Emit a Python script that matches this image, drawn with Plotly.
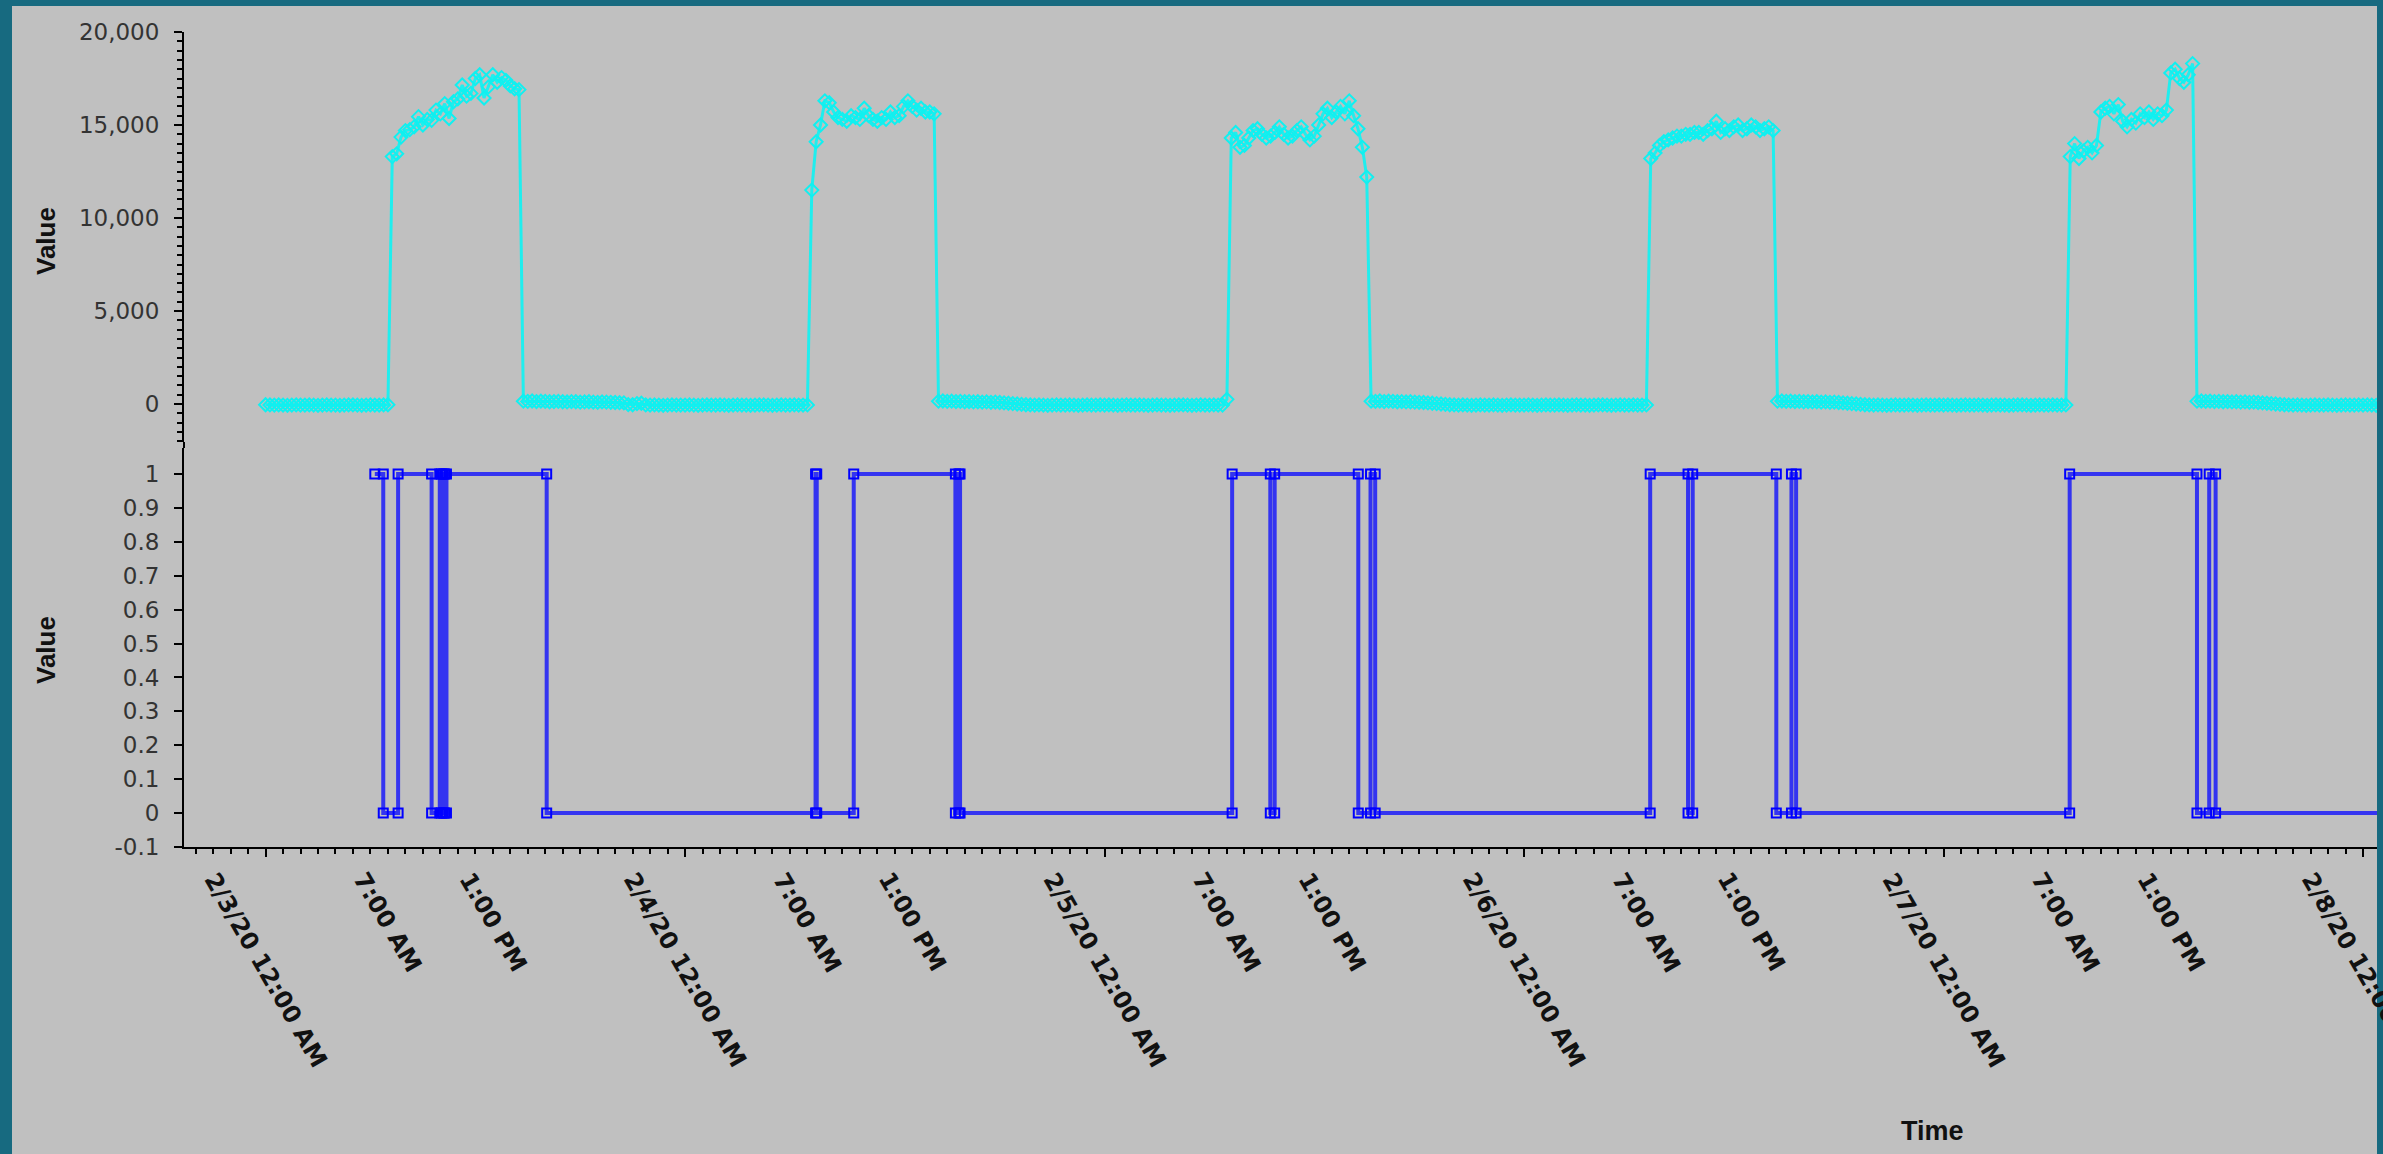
import plotly.graph_objects as go
import pandas as pd

# ---------------- data ----------------
# upper series: sampled every 15 minutes starting 2/3/20 00:00
night0 = [-40, -50, -60, -50, -60, -70, -60, -50, -60, -60, -50, -60, -70, -60, -50,
          -60, -60, -70, -60, -50, -50, -60, -70, -60, -50, -60, -60, -50, -40]
day1 = [13300, 13450, 14350, 14700, 14750, 14900, 15450, 15000, 15300, 15250,
        15800, 15600, 16150, 15350, 16250, 16400, 17150, 16550, 16700, 17500,
        17700, 16450, 17050, 17700, 17300, 17550, 17400, 17100, 16950, 16900]
night1 = [150, 140, 160, 130, 150, 140, 120, 130, 140, 120, 110, 130, 120, 100, 110,
          120, 100, 90, 110, 100, 90, 80, 70, 60, -30, -40, 20, 40, -50, -60, -50,
          -60, -70, -60, -50, -60, -60,
          -60, -50, -60, -70, -60, -50, -60, -60, -50, -60, -70, -60, -50, -60, -60,
          -70, -60, -50, -50, -60, -70, -60, -50, -60, -60, -50, -60, -60, -50]
day2 = [11500, 14100, 15000, 16300, 16200, 15700, 15400, 15300, 15200, 15500,
        15400, 15300, 15900, 15500, 15300, 15200, 15400, 15300, 15700, 15400,
        15500, 16000, 16300, 16000, 15800, 15900, 15700, 15700, 15600]
night2 = [150, 160, 140, 150, 130, 140, 120, 130, 110, 120, 100, 110, 90, 100, 80,
          60, 40, 20, 0, -20, -40, -50, -60, -50, -60, -70, -60, -50, -60, -60, -50,
          -60, -70, -60, -50, -60, -60, -50,
          -60, -50, -60, -70, -60, -50, -60, -60, -50, -60, -70, -60, -50, -60, -60,
          -70, -60, -50, -50, -60, -70, -60, -50, -60, -60, -50, -60, -60, 250]
day3 = [14300, 14600, 13800, 13900, 14300, 14700, 14800, 14500, 14300, 14400,
        14600, 14900, 14500, 14300, 14400, 14700, 14900, 14500, 14200, 14400,
        15000, 15600, 15900, 15400, 15700, 16000, 15600, 16300, 15500, 14800,
        13800, 12200]
night3 = [150, 140, 160, 130, 150, 140, 120, 130, 110, 120, 100, 90, 80, 60, 40, 20,
          0, -20, -40, -50, -60, -50, -60, -70, -60, -50, -60, -60, -50, -60, -70,
          -60, -50, -60, -60,
          -60, -50, -60, -70, -60, -50, -60, -60, -50, -60, -70, -60, -50, -60, -60,
          -70, -60, -50, -50, -60, -70, -60, -50, -60, -60, -50, -60, -60, -50]
day4 = [13200, 13500, 13900, 14100, 14200, 14300, 14400, 14400, 14500, 14500,
        14600, 14600, 14500, 14700, 14800, 15200, 14600, 14800, 14700, 14900,
        15000, 14700, 14800, 15000, 14900, 14700, 14800, 14900, 14700]
night4 = [150, 160, 140, 150, 130, 140, 120, 130, 110, 120, 100, 110, 90, 100, 80,
          60, 40, 20, 0, -20, -40, -50, -60, -50, -60, -70, -60, -50, -60, -60, -50,
          -60, -70, -60, -50, -60, -60, -50,
          -60, -50, -60, -70, -60, -50, -60, -60, -50, -60, -70, -60, -50, -60, -60,
          -70, -60, -50, -50, -60, -70, -60, -50, -60, -60, -50, -60, -60, -50]
day5 = [13300, 14000, 13200, 13600, 13800, 13500, 13900, 15700, 15900, 16000,
        15600, 16100, 15200, 14900, 15300, 15100, 15600, 15400, 15700, 15300,
        15600, 15500, 15800, 17800, 18000, 17500, 17300, 17700, 18300]
night5 = [150, 160, 140, 150, 130, 140, 120, 130, 110, 120, 100, 110, 90, 100, 80,
          60, 40, 20, 0, -20, -40, -50, -60, -50, -60, -70, -60, -50, -60, -60, -50,
          -60, -70, -60, -50, -60, -60, -50,
          -60, -50, -60, -70, -60]

power_values = (night0 + day1 + night1 + day2 + night2 + day3 + night3 + day4
                + night4 + day5 + night5)
power_times = pd.date_range("2020-02-03 00:00", periods=len(power_values), freq="15min")

# lower series: on/off state events
state_times = [
    "2020-02-03 06:15", "2020-02-03 06:44", "2020-02-03 06:44", "2020-02-03 07:35",
    "2020-02-03 07:35", "2020-02-03 09:30", "2020-02-03 09:30", "2020-02-03 09:58",
    "2020-02-03 09:58", "2020-02-03 10:04", "2020-02-03 10:04", "2020-02-03 10:10",
    "2020-02-03 10:10", "2020-02-03 10:15", "2020-02-03 10:15", "2020-02-03 10:21",
    "2020-02-03 10:21", "2020-02-03 16:05", "2020-02-03 16:05",
    "2020-02-04 07:28", "2020-02-04 07:28", "2020-02-04 07:32", "2020-02-04 07:32",
    "2020-02-04 09:39", "2020-02-04 09:39", "2020-02-04 15:28", "2020-02-04 15:28",
    "2020-02-04 15:40", "2020-02-04 15:40", "2020-02-04 15:44", "2020-02-04 15:44",
    "2020-02-05 07:18", "2020-02-05 07:18", "2020-02-05 09:29", "2020-02-05 09:29",
    "2020-02-05 09:44", "2020-02-05 09:44", "2020-02-05 14:31", "2020-02-05 14:31",
    "2020-02-05 15:13", "2020-02-05 15:13", "2020-02-05 15:29", "2020-02-05 15:29",
    "2020-02-06 07:13", "2020-02-06 07:13", "2020-02-06 09:23", "2020-02-06 09:23",
    "2020-02-06 09:39", "2020-02-06 09:39", "2020-02-06 14:26", "2020-02-06 14:26",
    "2020-02-06 15:18", "2020-02-06 15:18", "2020-02-06 15:34", "2020-02-06 15:34",
    "2020-02-07 07:13", "2020-02-07 07:13", "2020-02-07 14:30", "2020-02-07 14:30",
    "2020-02-07 15:12", "2020-02-07 15:12", "2020-02-07 15:34", "2020-02-07 15:34",
    "2020-02-08 07:10",
]
state_values = [
    1, 1, 0, 0,
    1, 1, 0, 0,
    1, 1, 0, 0,
    1, 1, 0, 0,
    1, 1, 0,
    0, 1, 1, 0,
    0, 1, 1, 0,
    0, 1, 1, 0,
    0, 1, 1, 0,
    0, 1, 1, 0,
    0, 1, 1, 0,
    0, 1, 1, 0,
    0, 1, 1, 0,
    0, 1, 1, 0,
    0, 1, 1, 0,
    0, 1, 1, 0,
    0,
]

x_tick_times = [
    "2020-02-03 00:00", "2020-02-03 07:00", "2020-02-03 13:00",
    "2020-02-04 00:00", "2020-02-04 07:00", "2020-02-04 13:00",
    "2020-02-05 00:00", "2020-02-05 07:00", "2020-02-05 13:00",
    "2020-02-06 00:00", "2020-02-06 07:00", "2020-02-06 13:00",
    "2020-02-07 00:00", "2020-02-07 07:00", "2020-02-07 13:00",
    "2020-02-08 00:00",
]
x_tick_labels = [
    "2/3/20 12:00 AM", "7:00 AM", "1:00 PM",
    "2/4/20 12:00 AM", "7:00 AM", "1:00 PM",
    "2/5/20 12:00 AM", "7:00 AM", "1:00 PM",
    "2/6/20 12:00 AM", "7:00 AM", "1:00 PM",
    "2/7/20 12:00 AM", "7:00 AM", "1:00 PM",
    "2/8/20 12:00 AM",
]
major_tick_times = ["2020-02-03", "2020-02-04", "2020-02-05", "2020-02-06",
                    "2020-02-07", "2020-02-08"]

upper_tick_vals = [0, 5000, 10000, 15000, 20000]
lower_tick_vals = [-0.1, 0, 0.1, 0.2, 0.3, 0.4, 0.5, 0.6, 0.7, 0.8, 0.9, 1]
lower_tick_text = ["-0.1", "0", "0.1", "0.2", "0.3", "0.4", "0.5", "0.6", "0.7",
                   "0.8", "0.9", "1"]

x_range = ["2020-02-02 19:20", "2020-02-08 00:48"]
upper_range = [-2043, 20000]
lower_range = [-0.1003, 1.077]

# ---------------- layout geometry (pixels) ----------------
W, H = 2383, 1154
L, R, T, B = 184, 6, 32, 307
pw = W - L - R
ph = H - T - B


def px_x(p):
    return (p - L) / pw


def px_y(p):
    return (H - B - p) / ph


GRAY = "#c0c0c0"
TEAL = "#176a80"
TICK_FONT = dict(family="DejaVu Sans", size=23, color="#333333")
TITLE_FONT = dict(family="Liberation Sans", size=26, color="#111111", weight="bold")

fig = go.Figure()
fig.add_trace(go.Scatter(
    x=power_times, y=power_values, xaxis="x", yaxis="y", mode="lines+markers",
    line=dict(color="#20eeee", width=3),
    marker=dict(symbol="diamond-open", size=10, color="#10f0f0", line=dict(width=2)),
    showlegend=False,
))
fig.add_trace(go.Scatter(
    x=pd.to_datetime(state_times), y=state_values, xaxis="x", yaxis="y2",
    mode="lines+markers",
    line=dict(color="#3434f0", width=4),
    marker=dict(symbol="square-open", size=9, color="#0000ff", line=dict(width=2)),
    showlegend=False,
))

axis_common = dict(showgrid=False, zeroline=False, showline=True, linecolor="black",
                   linewidth=2, ticks="outside", tickcolor="black", tickwidth=2)

fig.update_layout(
    width=W, height=H,
    margin=dict(l=L, r=R, t=T, b=B, pad=0),
    paper_bgcolor=TEAL, plot_bgcolor=GRAY,
    xaxis=dict(axis_common, type="date", range=x_range, anchor="y2",
               tickvals=pd.to_datetime(major_tick_times), showticklabels=False,
               ticklen=8,
               minor=dict(dtick=3600000, ticklen=5, tickcolor="black", tickwidth=2,
                          ticks="outside", showgrid=False)),
    yaxis=dict(axis_common, domain=[px_y(442), 1], range=upper_range,
               tickvals=upper_tick_vals, tickformat=",", ticklen=8,
               tickfont=TICK_FONT, ticklabelstandoff=10,
               minor=dict(dtick=500, ticklen=5, tickcolor="black", tickwidth=2,
                          ticks="outside", showgrid=False)),
    yaxis2=dict(axis_common, domain=[0, px_y(448)], range=lower_range, anchor="x",
                tickvals=lower_tick_vals, ticktext=lower_tick_text, ticklen=8,
                tickfont=TICK_FONT, ticklabelstandoff=10),
)

# grey panel behind the chart
fig.add_shape(type="rect", xref="paper", yref="paper", layer="below",
              x0=px_x(12), x1=px_x(2377), y0=px_y(H), y1=px_y(6),
              fillcolor=GRAY, line=dict(width=0))
# join the two value axes
fig.add_shape(type="line", xref="paper", yref="paper", x0=0, x1=0,
              y0=px_y(448), y1=px_y(442), line=dict(color="black", width=2))

# rotated time tick labels
for t, lab in zip(x_tick_times, x_tick_labels):
    fig.add_annotation(x=pd.Timestamp(t), y=px_y(865), xref="x", yref="paper",
                       text=lab, textangle=60, showarrow=False,
                       xanchor="center", yanchor="top",
                       font=dict(family="DejaVu Sans", size=24, color="#111111",
                                 weight="bold"))

# axis titles
fig.add_annotation(x=px_x(46), y=px_y(241), xref="paper", yref="paper", text="Value",
                   textangle=-90, showarrow=False, xanchor="center", yanchor="middle",
                   font=TITLE_FONT)
fig.add_annotation(x=px_x(46), y=px_y(650), xref="paper", yref="paper", text="Value",
                   textangle=-90, showarrow=False, xanchor="center", yanchor="middle",
                   font=TITLE_FONT)
fig.add_annotation(x=px_x(1933), y=px_y(1131), xref="paper", yref="paper", text="Time",
                   showarrow=False, xanchor="center", yanchor="middle",
                   font=dict(TITLE_FONT, size=27))

fig.write_html("out.html", config={"displayModeBar": False},
               post_script="document.body.style.margin='0';")
